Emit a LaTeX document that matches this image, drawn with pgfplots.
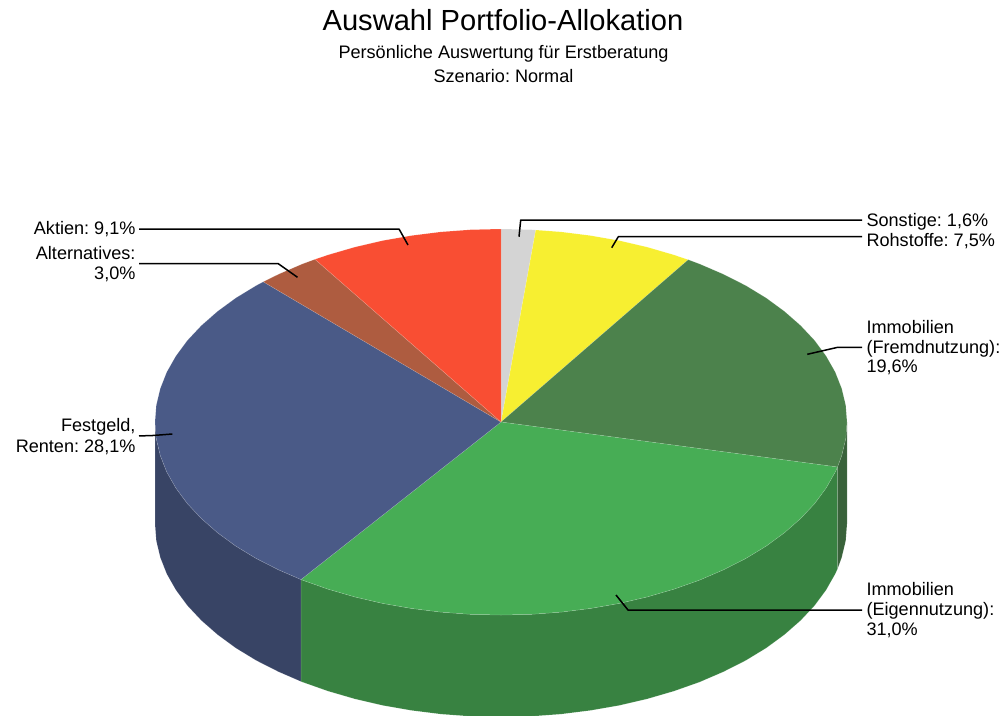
\documentclass[border=0pt]{standalone}
\usepackage{pgfplots}
\pgfplotsset{compat=1.18}
\usepackage{fontspec}
\setmainfont{Liberation Sans}
\frenchspacing
\definecolor{cFest}{HTML}{4A5A87}
\definecolor{cFestW}{HTML}{384465}
\definecolor{cEig}{HTML}{47AD55}
\definecolor{cEigW}{HTML}{388241}
\definecolor{cFre}{HTML}{4C824C}
\definecolor{cFreW}{HTML}{39623A}
\definecolor{cRoh}{HTML}{F7EF31}
\definecolor{cSon}{HTML}{D4D4D4}
\definecolor{cAkt}{HTML}{F94E33}
\definecolor{cAlt}{HTML}{AE5C40}
\tikzset{
  slice/.style={line width=0.5pt, draw opacity=0.2, draw=white},
  leader/.style={black, line width=1.5pt, line join=round},
  lab/.style={font=\fontsize{18.1}{20}\selectfont, inner sep=0pt, outer sep=0pt, text=black},
}
\begin{document}
\begin{tikzpicture}[x=1pt,y=1pt]
\path[use as bounding box, clip] (0,0) rectangle (1003,715);
\begin{axis}[
  scale only axis, width=1003pt, height=715pt,
  xmin=0, xmax=1003, ymin=0, ymax=715, y dir=reverse,
  hide axis, clip mode=individual, no markers,
]
% side walls (depth 102)
\addplot[fill=cFestW, slice] coordinates {
(301,579.5)(278.6,569.8)(256.3,558.5)(235.9,546.1)(217.6,532.7)(201.4,518.5)(187.4,503.6)(175.9,488)(166.8,472)(160.3,455.5)(156.3,438.8)(155,422)
(155,524)(156.3,540.8)(160.3,557.5)(166.8,574)(175.9,590)(187.4,605.6)(201.4,620.5)(217.6,634.7)(235.9,648.1)(256.3,660.5)(278.6,671.8)(301,681.5)} -- cycle;
\addplot[fill=cEigW, slice] coordinates {
(837.5,467)(835.2,472)(826.1,488)(814.6,503.6)(800.6,518.5)(784.4,532.7)(766.1,546.1)(745.7,558.5)(723.4,569.8)(699.5,580.1)(674,589.1)(647.2,596.9)(619.3,603.4)(590.6,608.4)(561.1,612.1)(531.2,614.3)(501,615)(470.8,614.3)(440.9,612.1)(411.4,608.4)(382.7,603.4)(354.8,596.9)(328,589.1)(302.5,580.1)(301,579.5)
(301,681.5)(302.5,682.1)(328,691.1)(354.8,698.9)(382.7,705.4)(411.4,710.4)(440.9,714.1)(470.8,716.3)(501,717)(531.2,716.3)(561.1,714.1)(590.6,710.4)(619.3,705.4)(647.2,698.9)(674,691.1)(699.5,682.1)(723.4,671.8)(745.7,660.5)(766.1,648.1)(784.4,634.7)(800.6,620.5)(814.6,605.6)(826.1,590)(835.2,574)(837.5,569)} -- cycle;
\addplot[fill=cFreW, slice] coordinates {
(847,422)(845.7,438.8)(841.7,455.5)(837.5,467)
(837.5,569)(841.7,557.5)(845.7,540.8)(847,524)} -- cycle;
% top faces
\addplot[fill=cSon, slice] coordinates {(501,422)(501,229)(531.2,229.7)(535.7,230)} -- cycle;
\addplot[fill=cRoh, slice] coordinates {(501,422)(535.7,230)(561.1,231.9)(590.6,235.6)(619.3,240.6)(647.2,247.1)(674,254.9)(688.2,259.7)} -- cycle;
\addplot[fill=cFre, slice] coordinates {(501,422)(688.2,259.7)(699.5,263.9)(723.4,274.2)(745.7,285.5)(766.1,297.9)(784.4,311.3)(800.6,325.5)(814.6,340.4)(826.1,356)(835.2,372)(841.7,388.5)(845.7,405.2)(847,422)(845.7,438.8)(841.7,455.5)(837.5,467)} -- cycle;
\addplot[fill=cEig, slice] coordinates {(501,422)(837.5,467)(835.2,472)(826.1,488)(814.6,503.6)(800.6,518.5)(784.4,532.7)(766.1,546.1)(745.7,558.5)(723.4,569.8)(699.5,580.1)(674,589.1)(647.2,596.9)(619.3,603.4)(590.6,608.4)(561.1,612.1)(531.2,614.3)(501,615)(470.8,614.3)(440.9,612.1)(411.4,608.4)(382.7,603.4)(354.8,596.9)(328,589.1)(302.5,580.1)(301,579.5)} -- cycle;
\addplot[fill=cFest, slice] coordinates {(501,422)(301,579.5)(278.6,569.8)(256.3,558.5)(235.9,546.1)(217.6,532.7)(201.4,518.5)(187.4,503.6)(175.9,488)(166.8,472)(160.3,455.5)(156.3,438.8)(155,422)(156.3,405.2)(160.3,388.5)(166.8,372)(175.9,356)(187.4,340.4)(201.4,325.5)(217.6,311.3)(235.9,297.9)(256.3,285.5)(263.3,281.8)} -- cycle;
\addplot[fill=cAlt, slice] coordinates {(501,422)(263.3,281.8)(278.6,274.2)(302.5,263.9)(315,259.3)} -- cycle;
\addplot[fill=cAkt, slice] coordinates {(501,422)(315,259.3)(328,254.9)(354.8,247.1)(382.7,240.6)(411.4,235.6)(440.9,231.9)(470.8,229.7)(501,229)} -- cycle;
% leader lines
\addplot[leader] coordinates {(139,229)(399,229)(408,245)};
\addplot[leader] coordinates {(139,263.5)(278,263.5)(297.5,277.3)};
\addplot[leader] coordinates {(139,435.8)(150,435.7)(172.3,434)};
\addplot[leader] coordinates {(862,220)(520.7,220)(519,236.7)};
\addplot[leader] coordinates {(862,236.7)(618.3,236.7)(611.7,247.7)};
\addplot[leader] coordinates {(862,347.3)(837.7,347.3)(807.3,354.3)};
\addplot[leader] coordinates {(862,610)(628,610)(616,595)};
% text
\node[lab, font=\fontsize{29.1}{32}\selectfont, anchor=base] at (axis cs:503,30) {Auswahl Portfolio-Allokation};
\node[lab, anchor=base] at (axis cs:503.5,58) {Persönliche Auswertung für Erstberatung};
\node[lab, anchor=base] at (axis cs:503.5,82) {Szenario: Normal};
\node[lab, anchor=base east] at (axis cs:135.5,234) {Aktien: 9,1\%};
\node[lab, anchor=base east] at (axis cs:135.5,259.3) {Alternatives:};
\node[lab, anchor=base east] at (axis cs:135.5,279.3) {3,0\%};
\node[lab, anchor=base east] at (axis cs:135.5,431) {Festgeld,};
\node[lab, anchor=base east] at (axis cs:135.5,452) {Renten: 28,1\%};
\node[lab, anchor=base west] at (axis cs:866.5,226) {Sonstige: 1,6\%};
\node[lab, anchor=base west] at (axis cs:866.5,246.7) {Rohstoffe: 7,5\%};
\node[lab, anchor=base west] at (axis cs:866.5,333.3) {Immobilien};
\node[lab, anchor=base west] at (axis cs:866.5,353.3) {(Fremdnutzung):};
\node[lab, anchor=base west] at (axis cs:866.5,372.7) {19,6\%};
\node[lab, anchor=base west] at (axis cs:866.5,595) {Immobilien};
\node[lab, anchor=base west] at (axis cs:866.5,615) {(Eigennutzung):};
\node[lab, anchor=base west] at (axis cs:866.5,635) {31,0\%};
\end{axis}
\end{tikzpicture}
\end{document}
